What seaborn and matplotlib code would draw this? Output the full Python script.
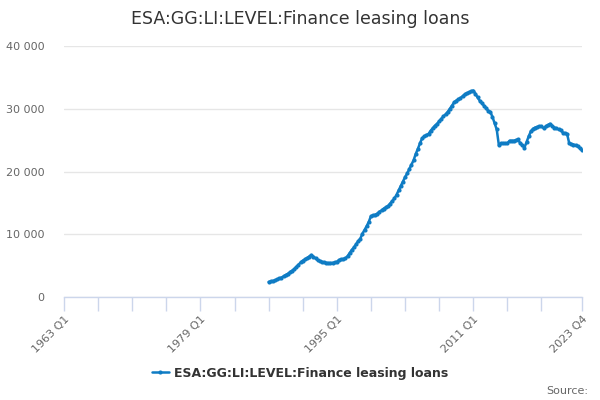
import numpy as np
import pandas as pd
import matplotlib
matplotlib.use('agg')
import seaborn as sns
import matplotlib.pyplot as plt
from matplotlib.ticker import FuncFormatter, FixedLocator

series_name = "ESA:GG:LI:LEVEL:Finance leasing loans"
first_quarter = "1987Q1"

# quarterly values, 1987 Q1 .. 2023 Q4
values = [
    2400, 2500, 2550, 2650,
    2800, 2950, 3100, 3300,
    3500, 3700, 3950, 4200,
    4450, 4800, 5150, 5500,
    5800, 6000, 6200, 6450,
    6700, 6450, 6150, 5850,
    5700, 5600, 5500, 5450,
    5400, 5400, 5450, 5500,
    5600, 5900, 6000, 6050,
    6150, 6500, 7000, 7500,
    7900, 8400, 8900, 9300,
    10100, 10700, 11300, 12000,
    12900, 13000, 13100, 13300,
    13600, 13800, 14100, 14300,
    14500, 14900, 15300, 15700,
    16300, 17000, 17700, 18400,
    19100, 19700, 20400, 21100,
    21800, 22800, 23600, 24500,
    25300, 25600, 25800, 26000,
    26500, 26900, 27300, 27600,
    28000, 28400, 28800, 29100,
    29500, 30000, 30500, 31000,
    31300, 31500, 31700, 32000,
    32300, 32500, 32600, 32800,
    32900, 32400, 31800, 31300,
    30900, 30500, 30100, 29700,
    29500, 28700, 27700, 26700,
    24200, 24500, 24500, 24500,
    24500, 24900, 24900, 24900,
    25000, 25100, 24500, 24200,
    23800, 24700, 25600, 26400,
    26800, 27000, 27100, 27200,
    27200, 26900, 27200, 27400,
    27600, 27300, 27000, 26900,
    26700, 26600, 26200, 26100,
    26000, 24500, 24400, 24300,
    24200, 24000, 23700, 23400,
]

axis_start = "1963Q1"
axis_end = "2023Q4"
tick_quarters = ["1963Q1", "1967Q1", "1971Q1", "1975Q1", "1979Q1", "1983Q1",
                 "1987Q1", "1991Q1", "1995Q1", "1999Q1", "2003Q1", "2007Q1",
                 "2011Q1", "2015Q1", "2019Q1", "2023Q4"]
labelled_quarters = ["1963Q1", "1979Q1", "1995Q1", "2011Q1", "2023Q4"]
y_ticks = [0, 10000, 20000, 30000, 40000]

line_color = "#0f7cc4"
axis_color = "#ccd6eb"
text_color = "#666666"

base = pd.Period(axis_start, freq="Q")
def qpos(q):
    return (pd.Period(q, freq="Q") - base).n

periods = pd.period_range(first_quarter, periods=len(values), freq="Q")
df = pd.DataFrame({"pos": [(p - base).n for p in periods], "value": values})

sns.set_theme(style="white")
plt.rcParams['font.family'] = ['DejaVu Sans']

fig = plt.figure(figsize=(6, 4), dpi=100)
ax = fig.add_axes([64 / 600, 1 - 297 / 400, 518 / 600, 251 / 400])

sns.lineplot(data=df, x="pos", y="value", ax=ax, color=line_color, linewidth=1.8,
             marker="o", markersize=3, markeredgewidth=0, label=series_name,
             legend=False)

ax.set_xlim(qpos(axis_start), qpos(axis_end))
ax.set_ylim(0, 40000)
ax.set_yticks(y_ticks)
ax.yaxis.set_major_formatter(FuncFormatter(lambda v, p: "0" if v == 0 else f"{int(v):,}".replace(",", " ")))
ax.grid(axis="y", color="#e6e6e6", linewidth=1)
ax.set_axisbelow(True)

tick_pos = [qpos(q) for q in tick_quarters]
ax.xaxis.set_major_locator(FixedLocator(tick_pos))
ax.set_xticklabels([q.replace("Q", " Q") if q in labelled_quarters else "" for q in tick_quarters],
                   rotation=45, ha="right", rotation_mode="anchor")
ax.tick_params(axis="x", length=10, width=1, color=axis_color, direction="out",
               labelsize=8, labelcolor=text_color, pad=2, bottom=True)
ax.tick_params(axis="y", length=0, labelsize=8, labelcolor=text_color, pad=14)

for s in ["top", "right", "left"]:
    ax.spines[s].set_visible(False)
ax.spines["bottom"].set_color(axis_color)
ax.spines["bottom"].set_linewidth(1)
ax.set_xlabel("")
ax.set_ylabel("")

fig.suptitle(series_name, x=0.5, y=0.975, fontsize=12.5, color="#333333")

handles, labels = ax.get_legend_handles_labels()
leg = fig.legend(handles, labels, loc="center", bbox_to_anchor=(0.5, 1 - 373 / 400),
                 frameon=False, handlelength=1.4, handletextpad=0.4,
                 prop={"size": 9, "weight": "bold"})
for t in leg.get_texts():
    t.set_color("#333333")

fig.text(0.98, 1 - 391 / 400, "Source:", ha="right", va="center", fontsize=8, color=text_color)

plt.savefig("out.png", dpi=100)
